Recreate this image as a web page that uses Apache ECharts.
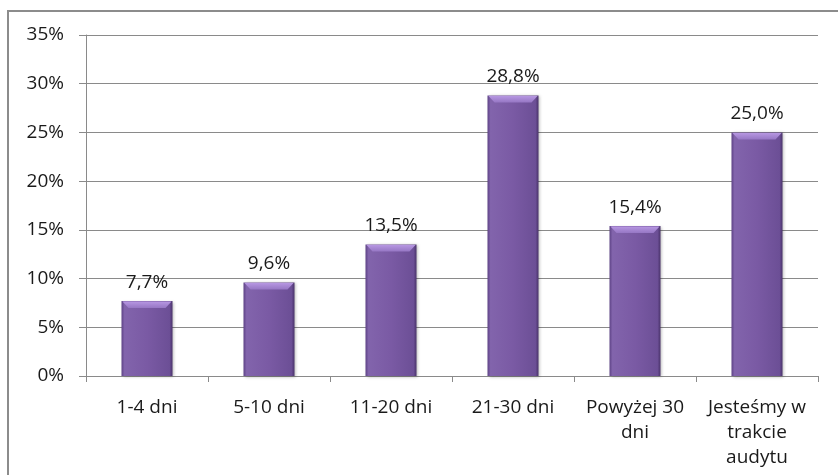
<!DOCTYPE html>
<html>
<head>
<meta charset="utf-8">
<script src="https://cdn.jsdelivr.net/npm/echarts@6/dist/echarts.min.js"></script>
<style>
  html, body { margin: 0; padding: 0; background: #fff; }
  #chart { width: 838px; height: 475px; }
</style>
</head>
<body>
<div id="chart"></div>
<script>
// Czas trwania audytu – udział odpowiedzi (%)
const categories = ['1-4 dni', '5-10 dni', '11-20 dni', '21-30 dni', 'Powyżej 30\ndni', 'Jesteśmy w\ntrakcie\naudytu'];
const shares = [7.7, 9.6, 13.5, 28.8, 15.4, 25.0];
const yTicks = { min: 0, max: 35, interval: 5 };

const FONT = 'Open Sans';
const TEXT = '#1a1a1a';
const BAR_W = 51;
const pct = v => v.toFixed(1).replace('.', ',') + '%';

const barFill = new echarts.graphic.LinearGradient(0, 0, 1, 0, [
  { offset: 0, color: '#5e4386' },
  { offset: 0.06, color: '#8264ac' },
  { offset: 0.5, color: '#7a5aa4' },
  { offset: 0.94, color: '#6c4f96' },
  { offset: 1, color: '#4a336b' }
]);

// bevelled cap drawn over the top of every bar
function renderBevel(params, api) {
  const top = api.coord([api.value(0), api.value(1)]);
  const x0 = top[0] - BAR_W / 2, x1 = top[0] + BAR_W / 2, y = top[1];
  const d = 7;
  return {
    type: 'polygon',
    shape: { points: [[x0 + 1, y + 0.5], [x1 - 1, y + 0.5], [x1 - d, y + d], [x0 + d, y + d]] },
    style: {
      fill: new echarts.graphic.LinearGradient(0, 0, 0, 1, [
        { offset: 0, color: '#b797e2' },
        { offset: 1, color: '#9677c4' }
      ])
    },
    silent: true
  };
}

const chart = echarts.init(document.getElementById('chart'), null, { renderer: 'canvas' });
chart.setOption({
  animation: false,
  backgroundColor: '#ffffff',
  graphic: [{
    type: 'rect',
    shape: { x: 8, y: 11, width: 840, height: 480 },
    style: { fill: 'none', stroke: '#8c8c8c', lineWidth: 2 },
    silent: true
  }],
  grid: { left: 86, right: 20, top: 35, bottom: 99, containLabel: false },
  xAxis: {
    type: 'category',
    data: categories,
    axisLine: { lineStyle: { color: '#8a8a8a', width: 1 } },
    axisTick: { show: true, length: 6, alignWithLabel: false, lineStyle: { color: '#8a8a8a' } },
    axisLabel: { color: TEXT, fontFamily: FONT, fontSize: 19, lineHeight: 25, margin: 19, interval: 0 }
  },
  yAxis: {
    type: 'value',
    min: yTicks.min, max: yTicks.max, interval: yTicks.interval,
    axisLine: { show: true, lineStyle: { color: '#8a8a8a', width: 1 } },
    axisTick: { show: true, length: 7, lineStyle: { color: '#8a8a8a' } },
    splitLine: { show: true, lineStyle: { color: '#8a8a8a', width: 1 } },
    axisLabel: { color: TEXT, fontFamily: FONT, fontSize: 19, margin: 22, formatter: v => v + '%' }
  },
  series: [{
    type: 'bar',
    data: shares,
    barWidth: BAR_W,
    itemStyle: {
      color: barFill,
      shadowColor: 'rgba(0,0,0,0.28)',
      shadowBlur: 3,
      shadowOffsetX: 1,
      shadowOffsetY: 1
    },
    label: {
      show: true,
      position: 'top',
      distance: 9,
      color: TEXT,
      fontFamily: FONT,
      fontSize: 19,
      formatter: p => pct(p.value)
    },
    z: 2
  }, {
    type: 'custom',
    data: shares.map((v, i) => [i, v]),
    renderItem: renderBevel,
    silent: true,
    z: 3
  }]
});
</script>
</body>
</html>
